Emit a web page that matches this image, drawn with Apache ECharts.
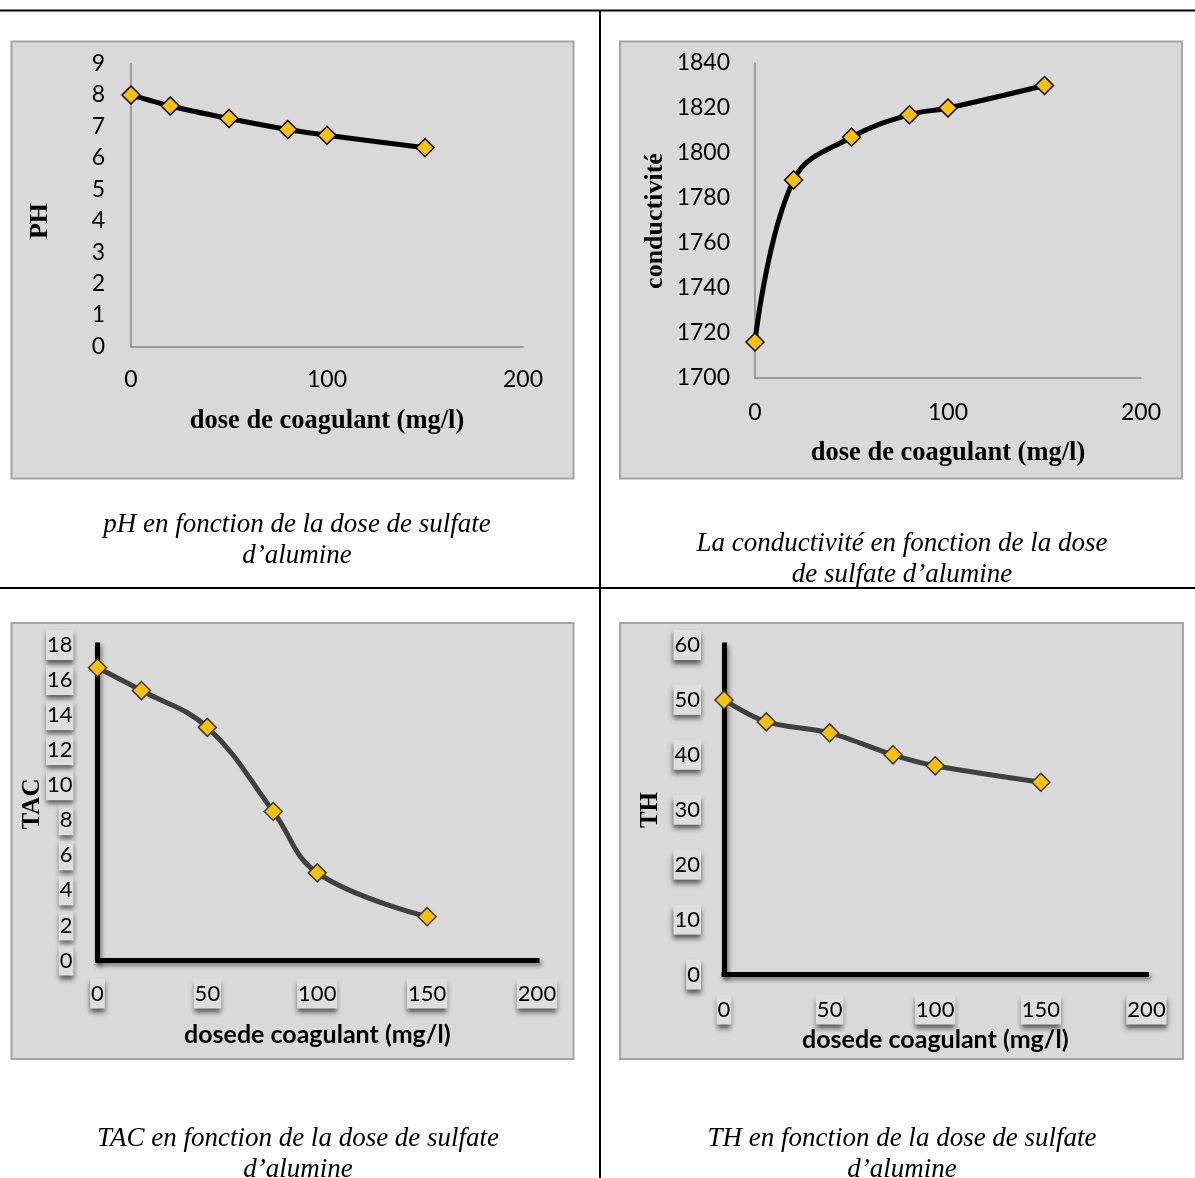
<!DOCTYPE html>
<html><head><meta charset="utf-8">
<script src="https://cdn.jsdelivr.net/npm/echarts@6/dist/echarts.min.js"></script>
<style>html,body{margin:0;padding:0;background:#fff}#c{width:1195px;height:1178px}</style>
</head><body><div id="c"></div>
<script>
// ---- data ----
const doses = [0, 20, 50, 80, 100, 150];
const phValues = [8.0, 7.65, 7.25, 6.9, 6.72, 6.32];
const condValues = [1716, 1788, 1807, 1817, 1820, 1830];
const tacValues = [16.7, 15.4, 13.3, 8.5, 5.0, 2.5];
const thValues = [50, 46, 44, 40, 38, 35];

const xTicksTop = [0, 100, 200];
const xTicksBottom = [0, 50, 100, 150, 200];
const phTicks = [0, 1, 2, 3, 4, 5, 6, 7, 8, 9];
const condTicks = [1700, 1720, 1740, 1760, 1780, 1800, 1820, 1840];
const tacTicks = [0, 2, 4, 6, 8, 10, 12, 14, 16, 18];
const thTicks = [0, 10, 20, 30, 40, 50, 60];

const xTitleTop = 'dose de coagulant (mg/l)';
const xTitleBottom = 'dosede coagulant (mg/l)';
const yTitles = ['PH', 'conductivité', 'TAC', 'TH'];
const captions = [
  ['pH en fonction de la dose de sulfate', 'd’alumine'],
  ['La conductivité en fonction de la dose', 'de sulfate d’alumine'],
  ['TAC en fonction de la dose de sulfate', 'd’alumine'],
  ['TH en fonction de la dose de sulfate', 'd’alumine']
];

// ---- helpers ----
function pairs(ys) { return doses.map((d, i) => [d, ys[i]]); }
function range(t) { return { min: t[0], max: t[t.length - 1], interval: t[1] - t[0] }; }
const fmt = v => String(v);

const grids = [
  { left: 131, top: 63.5, width: 392, height: 283 },
  { left: 755, top: 63, width: 386, height: 315 },
  { left: 97.5, top: 645, width: 439.5, height: 315.5 },
  { left: 724, top: 645, width: 422.5, height: 329.5 }
];

const thinLine = { show: true, lineStyle: { color: '#868686', width: 1.5 } };
const thickLine = { show: true, lineStyle: { color: '#000', width: 5, cap: 'square',
  shadowColor: 'rgba(0,0,0,0.45)', shadowBlur: 4, shadowOffsetX: 2, shadowOffsetY: 3 } };
const plainLabel = (margin) => ({ fontFamily: 'Lato', fontSize: 23, color: '#000', margin: margin, formatter: fmt, showMinLabel: true, showMaxLabel: true });
const boxLabel = (margin) => ({ fontFamily: 'Lato', fontSize: 22, color: '#000', margin: margin, formatter: fmt,
  backgroundColor: '#dedede', padding: [4, 1, 4, 1], shadowColor: 'rgba(0,0,0,0.6)',
  shadowBlur: 5, shadowOffsetY: 4, showMinLabel: true, showMaxLabel: true });
const serifName = { fontFamily: 'Liberation Serif', fontWeight: 'bold', fontSize: 26.5, color: '#000' };
const sansName = { fontFamily: 'Lato', fontWeight: 'bold', fontSize: 25, color: '#000' };

const xAxes = [
  Object.assign({ type: 'value', gridIndex: 0 }, range(xTicksTop), { axisLine: thinLine, axisTick: { show: false }, splitLine: { show: false }, axisLabel: plainLabel(22),
    name: xTitleTop, nameLocation: 'middle', nameGap: 61, nameTextStyle: serifName }),
  Object.assign({ type: 'value', gridIndex: 1 }, range(xTicksTop), { axisLine: thinLine, axisTick: { show: false }, splitLine: { show: false }, axisLabel: plainLabel(23),
    name: xTitleTop, nameLocation: 'middle', nameGap: 62, nameTextStyle: serifName }),
  Object.assign({ type: 'value', gridIndex: 2 }, range(xTicksBottom), { axisLine: thickLine, axisTick: { show: false }, splitLine: { show: false }, axisLabel: boxLabel(18),
    name: xTitleBottom, nameLocation: 'middle', nameGap: 62, nameTextStyle: sansName }),
  Object.assign({ type: 'value', gridIndex: 3 }, range(xTicksBottom), { axisLine: thickLine, axisTick: { show: false }, splitLine: { show: false }, axisLabel: boxLabel(20),
    name: xTitleBottom, nameLocation: 'middle', nameGap: 53, nameTextStyle: sansName })
];
const yAxes = [
  Object.assign({ type: 'value', gridIndex: 0 }, range(phTicks), { axisLine: thinLine, axisTick: { show: false }, splitLine: { show: false }, axisLabel: plainLabel(26) }),
  Object.assign({ type: 'value', gridIndex: 1 }, range(condTicks), { axisLine: thinLine, axisTick: { show: false }, splitLine: { show: false }, axisLabel: plainLabel(25) }),
  Object.assign({ type: 'value', gridIndex: 2 }, range(tacTicks), { axisLine: thickLine, axisTick: { show: false }, splitLine: { show: false }, axisLabel: boxLabel(24) }),
  Object.assign({ type: 'value', gridIndex: 3 }, range(thTicks), { axisLine: thickLine, axisTick: { show: false }, splitLine: { show: false }, axisLabel: boxLabel(23) })
];

function lineSeries(idx, ys, color, smooth) {
  return {
    type: 'line', xAxisIndex: idx, yAxisIndex: idx, data: pairs(ys), smooth: smooth,
    lineStyle: { color: color, width: 5 }, symbol: 'diamond', symbolSize: 18,
    itemStyle: { color: '#FFC000', borderColor: idx < 2 ? '#000' : '#3a3a3a', borderWidth: 1.5 },
    z: 3, animation: false
  };
}

const boxes = [
  { x: 11.5, y: 41.5, width: 562, height: 437 },
  { x: 620, y: 41.5, width: 562, height: 437 },
  { x: 11.5, y: 623, width: 562, height: 436 },
  { x: 620, y: 623, width: 563, height: 436 }
];
const yTitlePos = [[40, 221, 26], [655, 221, 26], [33, 804, 25], [651, 810, 25]];
const captionPos = [[297, 525], [902, 544], [298, 1139], [902, 1139]];

const elements = [];
boxes.forEach(b => elements.push({ type: 'rect', z: -5, shape: b, style: { fill: '#d9d9d9', stroke: '#a6a6a6', lineWidth: 2 } }));
elements.push({ type: 'line', z: -5, shape: { x1: 0, y1: 10.5, x2: 1195, y2: 10.5 }, style: { stroke: '#000', lineWidth: 2 } });
elements.push({ type: 'line', z: -5, shape: { x1: 0, y1: 588, x2: 1195, y2: 588 }, style: { stroke: '#000', lineWidth: 2 } });
elements.push({ type: 'line', z: -5, shape: { x1: 600, y1: 10, x2: 600, y2: 1178 }, style: { stroke: '#000', lineWidth: 2 } });
yTitles.forEach((t, i) => {
  const p = yTitlePos[i];
  elements.push({ type: 'text', x: p[0], y: p[1], rotation: Math.PI / 2,
    style: { text: t, fill: '#000', fontSize: p[2], fontWeight: 'bold', fontFamily: 'Liberation Serif', align: 'center', verticalAlign: 'middle' } });
});
captions.forEach((lines, i) => {
  const p = captionPos[i];
  lines.forEach((ln, j) => elements.push({ type: 'text', x: p[0], y: p[1] + j * 30.5,
    style: { text: ln, fill: '#000', font: 'italic 27px "Liberation Serif"', align: 'center', verticalAlign: 'middle' } }));
});

const chart = echarts.init(document.getElementById('c'));
chart.setOption({
  animation: false,
  backgroundColor: '#fff',
  grid: grids,
  xAxis: xAxes,
  yAxis: yAxes,
  series: [
    lineSeries(0, phValues, '#000', 0.3),
    lineSeries(1, condValues, '#000', 0.4),
    lineSeries(2, tacValues, '#404040', 0.4),
    lineSeries(3, thValues, '#404040', 0.3)
  ],
  graphic: { elements: elements }
});
</script></body></html>
